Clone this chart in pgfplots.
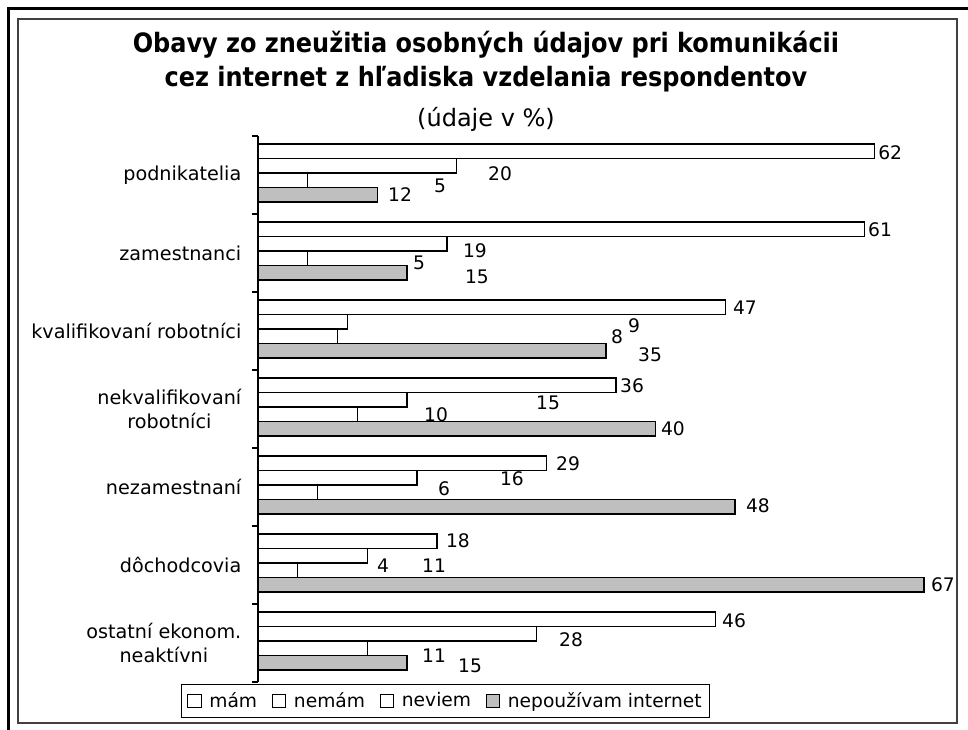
\documentclass[border=0pt]{standalone}
\usepackage{fontspec}
\setmainfont{DejaVu Sans}
\newfontfamily\titlefont{DejaVu Sans Condensed Bold}
\usepackage{pgfplots}
\pgfplotsset{compat=1.18}

% label positions (value axis, category axis) as drawn in the source chart
\pgfplotstableread{
x     y      t
63.6  6.282  62
24.35 6.013  20
18.31 5.859  5
14.29 5.744  12
62.58 5.295  61
21.83 5.026  19
16.20 4.872  5
22.03 4.692  15
48.99 4.295  47
37.83 4.064  9
36.12 3.923  8
39.44 3.692  35
37.63 3.295  36
29.18 3.077  15
17.91 2.923  10
41.75 2.744  40
31.19 2.295  29
25.55 2.103  16
18.71 1.974  6
50.30 1.756  48
20.12 1.308  18
17.71 0.987  11
12.58 0.987  4
68.91 0.744  67
47.89 0.282  46
31.49 0.038  28
17.71 -0.167 11
21.33 -0.295 15
}\labels

\begin{document}
\begin{tikzpicture}
\begin{axis}[
    scale only axis,
    width=499.5pt, height=409.5pt,
    xmin=0, xmax=67, ymin=-0.5, ymax=6.5,
    axis x line=none,
    axis y line*=left,
    y axis line style={-, line width=0.9pt},
    ytick={0,...,6},
    yticklabels={{ostatní ekonom.\\neaktívni}, dôchodcovia, nezamestnaní,
        {nekvalifikovaní\\robotníci}, kvalifikovaní robotníci, zamestnanci, podnikatelia},
    major tick length=0pt,
    minor ytick={-0.5,0.5,...,6.5},
    minor tick length=4.5pt,
    tick align=outside,
    tick style={black, line width=0.9pt},
    yticklabel style={align=center, xshift=-9pt,
        font=\fontsize{14.4}{18.5}\selectfont},
    clip=false,
    legend style={at={(axis description cs:0.282,-0.003)}, anchor=north,
        draw=black, line width=0.75pt, legend columns=4,
        font=\fontsize{14}{16}\selectfont, inner sep=4pt,
        /tikz/every odd column/.append style={column sep=4pt},
        /tikz/every even column/.append style={column sep=9pt}},
    legend image code/.code={\draw[#1, line width=0.6pt] (0pt,-5pt) rectangle (10pt,5pt);},
]
\addplot[xbar, bar width=10.875pt, bar shift=17.81pt, fill=white, draw=black, line width=1pt]
    coordinates {(62,6) (61,5) (47,4) (36,3) (29,2) (18,1) (46,0)};
\addplot[xbar, bar width=10.875pt, bar shift=6.94pt, fill=white, draw=black, line width=1pt]
    coordinates {(20,6) (19,5) (9,4) (15,3) (16,2) (11,1) (28,0)};
\addplot[xbar, bar width=10.875pt, bar shift=-3.94pt, fill=white, draw=black, line width=1pt]
    coordinates {(5,6) (5,5) (8,4) (10,3) (6,2) (4,1) (11,0)};
\addplot[xbar, bar width=10.875pt, bar shift=-14.81pt, fill=black!25, draw=black, line width=1pt]
    coordinates {(12,6) (15,5) (35,4) (40,3) (48,2) (67,1) (15,0)};
\legend{mám, nemám, neviem, nepoužívam internet}

\addplot[only marks, mark=*, mark size=0pt, mark options={draw=none, fill=none},
    nodes near coords, point meta=explicit symbolic,
    nodes near coords style={anchor=center, inner sep=0pt, font=\fontsize{14}{16}\selectfont},
    forget plot] table[x=x, y=y, meta=t] {\labels};
\end{axis}

% title
\node[anchor=base, font=\titlefont\fontsize{20}{22}\selectfont] at (171pt,471.75pt)
    {Obavy zo zneužitia osobných údajov pri komunikácii};
\node[anchor=base, font=\titlefont\fontsize{20}{22}\selectfont] at (171pt,446.25pt)
    {cez internet z hľadiska vzdelania respondentov};
\node[anchor=base, font=\fontsize{18}{20}\selectfont] at (171pt,416.25pt) {(údaje v \%)};

% frames
\draw[black!75, line width=1.1pt] (-180pt,-30.75pt) rectangle (524.25pt,497.25pt);
\draw[black, line width=2.25pt] (-186.75pt,-40pt) -- (-186.75pt,504.75pt) -- (540pt,504.75pt);

\pgfresetboundingbox
\useasboundingbox (-193.5pt,-35.25pt) rectangle (532.5pt,511.5pt);
\end{tikzpicture}
\end{document}
